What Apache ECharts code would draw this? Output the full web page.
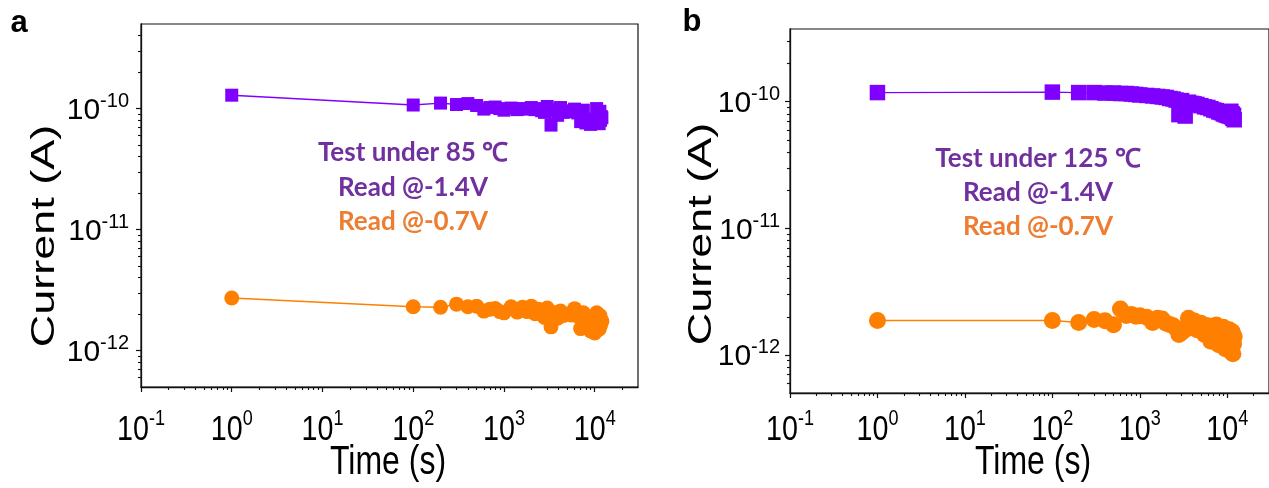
<!DOCTYPE html>
<html>
<head>
<meta charset="utf-8">
<script src="https://cdn.jsdelivr.net/npm/echarts@6/dist/echarts.min.js"></script>
<style>
  html, body { margin: 0; padding: 0; background: #fff; }
  #chart { width: 1269px; height: 488px; }
</style>
</head>
<body>
<div id="chart"></div>
<script>
// Retention time points (s), shared by all four traces
const timeS = [1, 100, 200, 300, 400, 500, 600, 700, 800, 900, 1000,
  1200, 1400, 1600, 1800, 2000, 2200, 2400, 2600, 2800, 3000,
  3300, 3600, 3900, 4200, 4500, 5000, 5500, 6000, 6500, 7000, 7500,
  8000, 8500, 9000, 9500, 10000, 10500, 11000, 11200, 11400, 11600, 11800, 12000];

// 85 ℃, read at -1.4 V (A)
const cur85High = [1.29e-10, 1.07e-10, 1.11e-10, 1.08e-10, 1.10e-10, 1.06e-10, 0.99e-10, 1.02e-10, 1.03e-10, 1.00e-10, 0.97e-10,
  1.01e-10, 0.98e-10, 1.00e-10, 0.99e-10, 1.02e-10, 0.98e-10, 1.00e-10, 0.96e-10, 0.93e-10, 1.04e-10,
  0.73e-10, 0.98e-10, 0.88e-10, 1.02e-10, 0.93e-10, 0.96e-10, 0.94e-10, 0.99e-10, 0.92e-10, 0.78e-10, 0.97e-10,
  0.76e-10, 0.80e-10, 0.74e-10, 0.82e-10, 0.77e-10, 1.00e-10, 0.90e-10, 0.75e-10, 0.95e-10, 0.80e-10, 0.86e-10, 0.84e-10];
// 85 ℃, read at -0.7 V (A)
const cur85Low = [2.72e-12, 2.30e-12, 2.28e-12, 2.42e-12, 2.30e-12, 2.33e-12, 2.12e-12, 2.20e-12, 2.23e-12, 2.10e-12, 2.05e-12,
  2.30e-12, 2.08e-12, 2.28e-12, 2.10e-12, 2.33e-12, 2.02e-12, 2.20e-12, 1.98e-12, 1.88e-12, 2.25e-12,
  1.57e-12, 2.05e-12, 1.85e-12, 2.12e-12, 1.95e-12, 2.00e-12, 1.97e-12, 2.22e-12, 1.92e-12, 1.52e-12, 2.05e-12,
  1.60e-12, 1.68e-12, 1.45e-12, 1.72e-12, 1.40e-12, 2.05e-12, 1.85e-12, 1.50e-12, 1.95e-12, 1.62e-12, 1.78e-12, 1.75e-12];
// 125 ℃, read at -1.4 V (A)
const cur125High = [1.18e-10, 1.19e-10, 1.18e-10, 1.18e-10, 1.17e-10, 1.17e-10, 1.16e-10, 1.16e-10, 1.15e-10, 1.14e-10, 1.13e-10,
  1.12e-10, 1.11e-10, 1.10e-10, 1.09e-10, 1.08e-10, 1.06e-10, 1.05e-10, 1.03e-10, 0.79e-10, 1.02e-10,
  0.77e-10, 0.99e-10, 0.97e-10, 0.96e-10, 0.95e-10, 0.93e-10, 0.91e-10, 0.90e-10, 0.88e-10, 0.86e-10, 0.85e-10,
  0.83e-10, 0.82e-10, 0.80e-10, 0.79e-10, 0.78e-10, 0.77e-10, 0.84e-10, 0.76e-10, 0.80e-10, 0.74e-10, 0.78e-10, 0.72e-10];
// 125 ℃, read at -0.7 V (A)
const cur125Low = [1.87e-12, 1.87e-12, 1.80e-12, 1.90e-12, 1.86e-12, 1.73e-12, 2.30e-12, 2.05e-12, 2.08e-12, 2.02e-12, 2.04e-12,
  1.98e-12, 1.80e-12, 1.95e-12, 1.92e-12, 1.78e-12, 1.74e-12, 1.70e-12, 1.62e-12, 1.45e-12, 1.50e-12,
  1.58e-12, 1.95e-12, 1.72e-12, 1.85e-12, 1.58e-12, 1.78e-12, 1.45e-12, 1.70e-12, 1.28e-12, 1.55e-12, 1.72e-12,
  1.20e-12, 1.45e-12, 1.65e-12, 1.12e-12, 1.35e-12, 1.58e-12, 1.06e-12, 1.30e-12, 1.52e-12, 1.02e-12, 1.22e-12, 1.40e-12];

// Decade exponents that carry tick labels
const xExponents = [-1, 0, 1, 2, 3, 4];
const yExponents = [-12, -11, -10];

const panelTags = ['a', 'b'];
const notes85 = ['Test under 85 ℃', 'Read @-1.4V', 'Read @-0.7V'];
const notes125 = ['Test under 125 ℃', 'Read @-1.4V', 'Read @-0.7V'];
const xTitle = 'Time (s)';
const yTitle = 'Current (A)';

const PURPLE = '#8000ff';
const ORANGE = '#ff8000';
const NOTE_PURPLE = '#7030a0';
const NOTE_ORANGE = '#ed7d31';
const SANS = '"Liberation Sans", Arial, sans-serif';

const X_MIN = 0.1, X_MAX = 3e4;

function minorTicks(lo, hi) {
  const out = [];
  for (let e = Math.floor(lo); e < Math.ceil(hi); e++) {
    for (let k = 2; k <= 9; k++) {
      const v = e + Math.log10(k);
      if (v > lo && v < hi) out.push(v);
    }
  }
  return out;
}

function expLabel(v) {
  return '{b|10}{s|' + Math.round(v) + '}';
}

const panels = [
  { grid: { left: 141, top: 24, right: 631, bottom: 101 }, yMin: 5e-13, yMax: 5e-10,
    high: cur85High, low: cur85Low, sq: 13, ci: 15, xLabelY: 428, yMargin: 12 },
  { grid: { left: 790, top: 29, right: -8, bottom: 95 }, yMin: 5e-13, yMax: 3.75e-10,
    high: cur125High, low: cur125Low, sq: 15.5, ci: 17, xLabelY: 428, yMargin: 10 }
];

const grid = [], xAxis = [], yAxis = [], series = [];

panels.forEach((p, i) => {
  grid.push(Object.assign({ show: true, borderColor: '#111', borderWidth: 1.2,
    backgroundColor: 'transparent', containLabel: false }, p.grid));

  const xLo = Math.log10(X_MIN), xHi = Math.log10(X_MAX);
  const yLo = Math.log10(p.yMin), yHi = Math.log10(p.yMax);

  // data axes (log scale)
  xAxis.push({ type: 'log', logBase: 10, gridIndex: i, min: X_MIN, max: X_MAX, show: false });
  yAxis.push({ type: 'log', logBase: 10, gridIndex: i, min: p.yMin, max: p.yMax, show: false });

  // decade ticks (same span, in exponent units); x labels are set as narrow text below
  xAxis.push({
    type: 'value', gridIndex: i, position: 'bottom', min: xLo, max: xHi,
    splitLine: { show: false }, axisLabel: { show: false },
    axisLine: { show: true, onZero: false, lineStyle: { color: '#111', width: 1.3 } },
    axisTick: { show: true, inside: false, length: 5, customValues: xExponents, lineStyle: { color: '#111', width: 1.2 } }
  });
  xAxis.push({
    type: 'value', gridIndex: i, position: 'bottom', min: xLo, max: xHi,
    splitLine: { show: false }, axisLabel: { show: false },
    axisLine: { show: false, onZero: false },
    axisTick: { show: true, inside: false, length: 3, customValues: minorTicks(xLo, xHi), lineStyle: { color: '#111', width: 1.1 } }
  });

  yAxis.push({
    type: 'value', gridIndex: i, position: 'left', min: yLo, max: yHi,
    splitLine: { show: false },
    axisLine: { show: true, onZero: false, lineStyle: { color: '#111', width: 1.3 } },
    axisTick: { show: true, inside: false, length: 5, customValues: yExponents, lineStyle: { color: '#111', width: 1.2 } },
    axisLabel: {
      show: true, customValues: yExponents, margin: p.yMargin, formatter: expLabel,
      rich: {
        b: { fontFamily: SANS, fontSize: 30, lineHeight: 34, color: '#000', verticalAlign: 'bottom' },
        s: { fontFamily: SANS, fontSize: 20, lineHeight: 20, color: '#000', verticalAlign: 'top' }
      }
    }
  });
  yAxis.push({
    type: 'value', gridIndex: i, position: 'left', min: yLo, max: yHi,
    splitLine: { show: false }, axisLabel: { show: false },
    axisLine: { show: false, onZero: false },
    axisTick: { show: true, inside: false, length: 3, customValues: minorTicks(yLo, yHi), lineStyle: { color: '#111', width: 1.1 } }
  });

  const xi = i * 3, yi = i * 3;
  series.push({
    type: 'line', xAxisIndex: xi, yAxisIndex: yi, name: 'Read @-0.7V',
    data: timeS.map((t, k) => [t, p.low[k]]),
    symbol: 'circle', symbolSize: p.ci, showAllSymbol: true,
    lineStyle: { color: ORANGE, width: 1.4 }, itemStyle: { color: ORANGE }
  });
  series.push({
    type: 'line', xAxisIndex: xi, yAxisIndex: yi, name: 'Read @-1.4V',
    data: timeS.map((t, k) => [t, p.high[k]]),
    symbol: 'rect', symbolSize: p.sq, showAllSymbol: true,
    lineStyle: { color: PURPLE, width: 1.4 }, itemStyle: { color: PURPLE }
  });
});

function txt(x, y, text, opt) {
  return Object.assign({
    type: 'text', x: x, y: y, silent: true,
    style: Object.assign({
      text: text, fill: '#000', align: 'center', verticalAlign: 'middle',
      textAlign: 'center', textVerticalAlign: 'middle'
    }, opt.style)
  }, opt.el || {});
}

const graphic = [];
// panel tags
graphic.push(txt(19, 23, panelTags[0], { style: { fontFamily: SANS, fontWeight: 'bold', fontSize: 31 } }));
graphic.push(txt(692, 22, panelTags[1], { style: { fontFamily: SANS, fontWeight: 'bold', fontSize: 31 } }));
// axis titles
[[45, 236], [702, 234]].forEach(([x, y]) => {
  graphic.push(txt(x, y, yTitle, { style: { fontFamily: SANS, fontSize: 45 }, el: { rotation: Math.PI / 2, scaleY: 0.75 } }));
});
[[388, 463], [1033, 463]].forEach(([x, y]) => {
  graphic.push(txt(x, y, xTitle, { style: { fontFamily: SANS, fontSize: 40 }, el: { scaleX: 0.8 } }));
});
// annotation notes
const noteColors = [NOTE_PURPLE, NOTE_PURPLE, NOTE_ORANGE];
notes85.forEach((s, k) => {
  graphic.push(txt(413, [153, 188, 222][k], s, { style: { fontFamily: 'Lato, sans-serif', fontWeight: 'bold', fontSize: 26, fill: noteColors[k] } }));
});
notes125.forEach((s, k) => {
  graphic.push(txt(1038, [159, 193, 227][k], s, { style: { fontFamily: 'Lato, sans-serif', fontWeight: 'bold', fontSize: 26, fill: noteColors[k] } }));
});

const chart = echarts.init(document.getElementById('chart'), null, { renderer: 'canvas' });
const baseOption = {
  animation: false,
  backgroundColor: '#fff',
  grid: grid,
  xAxis: xAxis,
  yAxis: yAxis,
  series: series
};
chart.setOption(baseOption);

// x decade labels: narrow 10^n text placed at the positions given by the decade axis
panels.forEach((p, i) => {
  xExponents.forEach(e => {
    const px = chart.convertToPixel({ xAxisIndex: i * 3 + 1 }, e);
    graphic.push({
      type: 'text', x: px, y: p.xLabelY, scaleX: 0.82, silent: true,
      style: {
        text: expLabel(e), align: 'center', verticalAlign: 'middle',
        textAlign: 'center', textVerticalAlign: 'middle',
        rich: {
          b: { fontFamily: SANS, fontSize: 35, lineHeight: 40, fill: '#000', verticalAlign: 'bottom' },
          s: { fontFamily: SANS, fontSize: 22, lineHeight: 22, fill: '#000', verticalAlign: 'top' }
        }
      }
    });
  });
});
chart.setOption({ graphic: graphic });
</script>
</body>
</html>
